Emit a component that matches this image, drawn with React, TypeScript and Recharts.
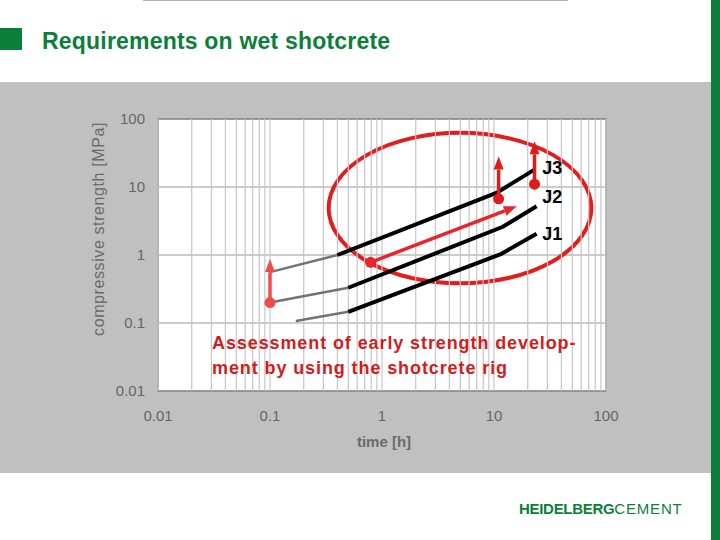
import { LineChart, Line, XAxis, YAxis, CartesianGrid, ReferenceLine, ReferenceDot, ReferenceArea } from 'recharts';

// log-log axes: time [h] vs compressive strength [MPa]
const timeTicks = [0.01, 0.1, 1, 10, 100];
const strengthTicks = [0.01, 0.1, 1, 10, 100];
const decades = [0.01, 0.1, 1, 10];
const steps = [1, 2, 3, 4, 5, 6, 7, 8, 9];
const minorTime = [...decades.flatMap((d) => steps.map((s) => +(d * s).toPrecision(3))), 100];

// J-curves, grey part = extrapolated early range, black part = measured range
const j1Early = [{ t: 0.17, s: 0.107 }, { t: 0.5, s: 0.146 }];
const j1Late = [{ t: 0.5, s: 0.146 }, { t: 11.5, s: 1.03 }, { t: 24, s: 2.05 }];
const j2Early = [{ t: 0.1, s: 0.2 }, { t: 0.5, s: 0.33 }];
const j2Late = [{ t: 0.5, s: 0.33 }, { t: 12, s: 2.6 }, { t: 24, s: 5.2 }];
const j3Early = [{ t: 0.1, s: 0.56 }, { t: 0.4, s: 1.0 }];
const j3Late = [{ t: 0.4, s: 1.0 }, { t: 10.5, s: 8.2 }, { t: 23, s: 18 }];

const curveLabels = [
    { name: 'J3', t: 27, s: 19.3 },
    { name: 'J2', t: 27, s: 7.2 },
    { name: 'J1', t: 27, s: 2.05 },
];

// red annotations
const arrows = [
    { from: { x: 0.1, y: 0.2 }, to: { x: 0.1, y: 0.87 }, color: '#f04c4c' },
    { from: { x: 0.79, y: 0.78 }, to: { x: 16, y: 5.2 }, color: '#e8262a' },
    { from: { x: 11, y: 6.7 }, to: { x: 11, y: 28 }, color: '#e11b1b' },
    { from: { x: 23, y: 11 }, to: { x: 23, y: 47 }, color: '#e11b1b' },
];
const focusArea = { t1: 0.334, t2: 74, s1: 0.384, s2: 62.6 };

const FONT = '"Liberation Sans", Arial, sans-serif';
const GREEN = '#0b7f3a';

const arrowShape = (color: string) => (props: any) => {
    const { x1, y1, x2, y2 } = props;
    const a = Math.atan2(y2 - y1, x2 - x1);
    const head = 13;
    const half = 5;
    const bx = x2 - head * Math.cos(a);
    const by = y2 - head * Math.sin(a);
    const px = -Math.sin(a) * half;
    const py = Math.cos(a) * half;
    return (
        <g>
            <line x1={x1} y1={y1} x2={bx} y2={by} stroke={color} strokeWidth={3.5} />
            <polygon points={`${x2},${y2} ${bx + px},${by + py} ${bx - px},${by - py}`} fill={color} />
        </g>
    );
};

export default function App() {
    return (
        <div style={{ position: 'absolute', left: 0, top: 0, width: 720, height: 540, background: '#fff', overflow: 'hidden', fontFamily: FONT }}>
            <div style={{ position: 'absolute', left: 143, top: 0, width: 425, height: 1, background: '#b0b0b0' }} />
            <div style={{ position: 'absolute', left: 0, top: 28, width: 22, height: 22, background: GREEN }} />
            <div style={{ position: 'absolute', left: 42, top: 27, fontSize: 23, fontWeight: 'bold', letterSpacing: 0.2, color: GREEN, lineHeight: '28px', whiteSpace: 'nowrap' }}>
                Requirements on wet shotcrete
            </div>
            <div style={{ position: 'absolute', right: 0, top: 0, width: 9, height: 540, background: GREEN }} />
            <div style={{ position: 'absolute', left: 0, top: 82, width: 711, height: 391, background: '#c0c0c0' }} />

            <div style={{ position: 'absolute', left: 0, top: 0 }}>
                <LineChart width={720} height={540} margin={{ top: 119, right: 114, bottom: 119, left: 98 }}>
                    <CartesianGrid fill="#fff" vertical={false} stroke="#9a9a9a" strokeWidth={1.2} />
                    {minorTime.map((v) => (
                        <ReferenceLine key={v} x={v} stroke="#c6c6c6" strokeWidth={1.2} />
                    ))}
                    <XAxis
                        dataKey="t"
                        type="number"
                        scale="log"
                        domain={[0.01, 100]}
                        ticks={timeTicks}
                        allowDataOverflow
                        height={30}
                        tickLine={false}
                        axisLine={false}
                        tickSize={6}
                        tickMargin={13}
                        tick={{ fontSize: 15, fill: '#666', fontFamily: FONT }}
                        tickFormatter={(v) => String(v)}
                    />
                    <YAxis
                        dataKey="s"
                        type="number"
                        scale="log"
                        domain={[0.01, 100]}
                        ticks={strengthTicks}
                        allowDataOverflow
                        width={60}
                        tickLine={false}
                        axisLine={false}
                        tickSize={6}
                        tickMargin={7}
                        tick={{ fontSize: 15, fill: '#666', fontFamily: FONT }}
                        tickFormatter={(v) => String(v)}
                    />
                    <ReferenceArea x1={0.01} x2={100} y1={0.01} y2={100} fill="none" stroke="#8a8a8a" strokeWidth={1.5} />

                    <Line data={j1Early} dataKey="s" stroke="#737373" strokeWidth={2.5} dot={false} isAnimationActive={false} />
                    <Line data={j2Early} dataKey="s" stroke="#737373" strokeWidth={2.5} dot={false} isAnimationActive={false} />
                    <Line data={j3Early} dataKey="s" stroke="#737373" strokeWidth={2.5} dot={false} isAnimationActive={false} />
                    <Line data={j1Late} dataKey="s" stroke="#000" strokeWidth={4} dot={false} isAnimationActive={false} />
                    <Line data={j2Late} dataKey="s" stroke="#000" strokeWidth={4} dot={false} isAnimationActive={false} />
                    <Line data={j3Late} dataKey="s" stroke="#000" strokeWidth={4} dot={false} isAnimationActive={false} />

                    {curveLabels.map((l) => (
                        <ReferenceDot
                            key={l.name}
                            x={l.t}
                            y={l.s}
                            r={0}
                            shape={(p: any) => (
                                <text x={p.cx} y={p.cy} dy="0.36em" fontSize={18} fontWeight="bold" fontFamily={FONT} fill="#000">
                                    {l.name}
                                </text>
                            )}
                        />
                    ))}

                    <ReferenceArea
                        x1={focusArea.t1}
                        x2={focusArea.t2}
                        y1={focusArea.s1}
                        y2={focusArea.s2}
                        shape={(p: any) => (
                            <ellipse
                                cx={p.x + p.width / 2}
                                cy={p.y + p.height / 2}
                                rx={Math.abs(p.width) / 2}
                                ry={Math.abs(p.height) / 2}
                                fill="none"
                                stroke="#e41c1c"
                                strokeWidth={4}
                            />
                        )}
                    />
                    {arrows.map((a, i) => (
                        <ReferenceLine key={`arrow-${i}`} segment={[a.from, a.to]} shape={arrowShape(a.color)} />
                    ))}
                    {arrows.map((a, i) => (
                        <ReferenceDot key={`dot-${i}`} x={a.from.x} y={a.from.y} r={5.5} fill={a.color} stroke="none" />
                    ))}
                </LineChart>
            </div>

            <div
                style={{
                    position: 'absolute',
                    left: 99,
                    top: 229,
                    transform: 'translate(-50%, -50%) rotate(-90deg)',
                    fontSize: 16,
                    letterSpacing: 0.6,
                    color: '#6b6b6b',
                    whiteSpace: 'nowrap',
                }}
            >
                compressive strength [MPa]
            </div>
            <div style={{ position: 'absolute', left: 384, top: 441, transform: 'translate(-50%, -50%)', fontSize: 15, fontWeight: 'bold', color: '#6b6b6b', whiteSpace: 'nowrap' }}>
                time [h]
            </div>
            <div style={{ position: 'absolute', left: 212, top: 331, fontSize: 18, fontWeight: 'bold', letterSpacing: 0.9, color: '#d41c1c', lineHeight: '25px', whiteSpace: 'nowrap' }}>
                Assessment of early strength develop-
                <br />
                ment by using the shotcrete rig
            </div>
            <div style={{ position: 'absolute', left: 519, top: 500, fontSize: 15, color: GREEN, whiteSpace: 'nowrap', lineHeight: '18px' }}>
                <span style={{ fontWeight: 'bold', letterSpacing: -0.3 }}>HEIDELBERG</span>
                <span style={{ letterSpacing: 0.8 }}>CEMENT</span>
            </div>
        </div>
    );
}
